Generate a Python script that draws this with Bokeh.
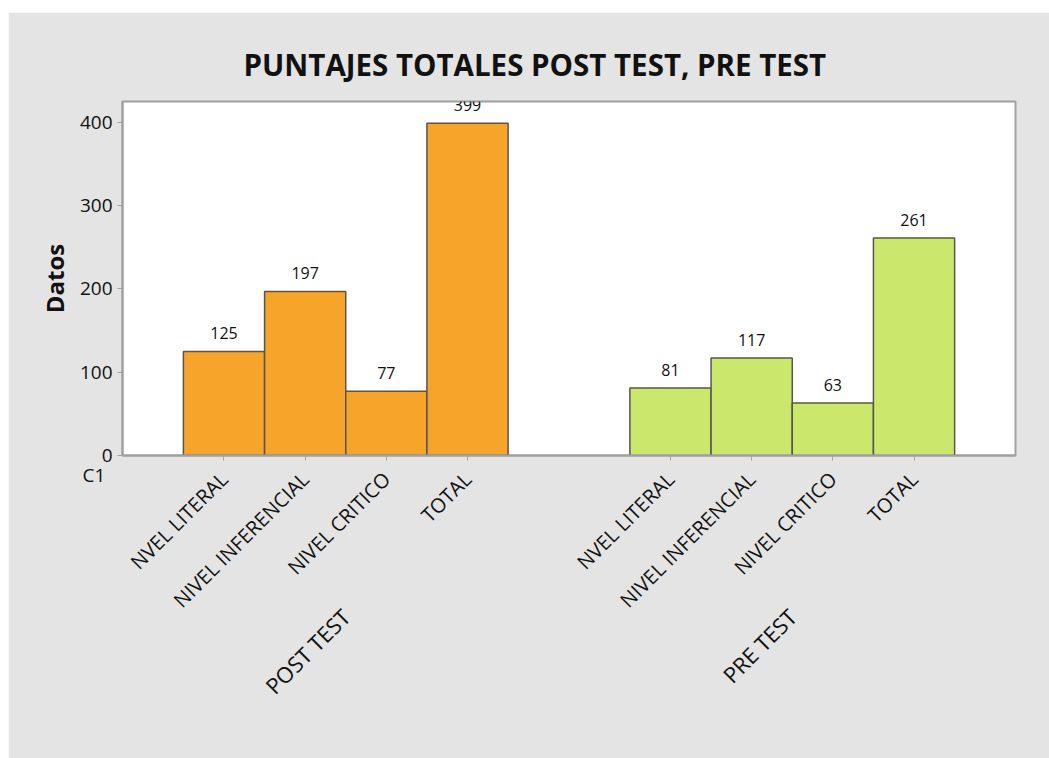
import math
from bokeh.plotting import figure
from bokeh.models import ColumnDataSource, LabelSet, Label, FixedTicker, Spacer, Range1d, LinearAxis
from bokeh.layouts import column, row
from bokeh.core.properties import value
from bokeh.embed import file_html
from bokeh.resources import INLINE

groups = ["POST TEST", "PRE TEST"]
levels = ["NVEL LITERAL", "NIVEL INFERENCIAL", "NIVEL CRITICO", "TOTAL"]
post_values = [125, 197, 77, 399]
pre_values = [81, 117, 63, 261]
group_colors = ["#F7A52A", "#CBE86C"]
x_axis_name = "C1"

# layout in bar units (bar width = 2 so every tick is an integer)
BAR = 2
GAP = 3
n = len(levels)
xs, tops, fills, labs = [], [], [], []
centers = []
for j, vals in enumerate([post_values, pre_values]):
    base = j * (n * BAR + GAP)
    centers.append(int(base + (n - 1) * BAR // 2))
    for i, v in enumerate(vals):
        xs.append(base + i * BAR)
        tops.append(v)
        fills.append(group_colors[j])
        labs.append(str(v))
src = ColumnDataSource(dict(x=xs, top=tops, fill=fills, lab=labs))

FONT = "Open Sans"
PAD = 1.5
p = figure(x_range=Range1d(xs[0] - BAR / 2 - PAD, xs[-1] + BAR / 2 + PAD),
           y_range=(0, 425), width=1041, height=746,
           output_backend="svg", toolbar_location=None,
           min_border_left=114, min_border_right=34, min_border_top=89,
           min_border_bottom=303)

p.vbar(x="x", top="top", width=BAR, source=src, fill_color="fill",
       line_color="#555555", line_width=1.5)

p.add_layout(LabelSet(x="x", y="top", text="lab", source=src, y_offset=12,
                      text_align="center", text_baseline="bottom",
                      text_font=value(FONT), text_font_size=value("16px"),
                      text_color="#111111"))

p.title.text = "PUNTAJES TOTALES POST TEST, PRE TEST"
p.title.align = "left"
p.title.offset = 121
p.title.text_font = FONT
p.title.text_font_size = "29.5px"
p.title.text_font_style = "bold"
p.title.text_color = "#111111"
p.title.standoff = 33

p.background_fill_color = "white"
p.border_fill_color = "#E4E4E4"
p.outline_line_color = "#A0A0A0"
p.outline_line_width = 2
p.xgrid.visible = False
p.ygrid.visible = False

p.yaxis.ticker = FixedTicker(ticks=[0, 100, 200, 300, 400])
p.yaxis.axis_label = "Datos"
p.yaxis.axis_label_text_font = FONT
p.yaxis.axis_label_text_font_size = "24px"
p.yaxis.axis_label_text_font_style = "bold"
p.yaxis.axis_label_text_color = "#111111"
p.yaxis.axis_label_standoff = 6
p.yaxis.major_label_text_font = FONT
p.yaxis.major_label_text_font_size = "19px"
p.yaxis.major_label_text_color = "#111111"
p.yaxis.axis_line_color = "#A0A0A0"
p.yaxis.axis_line_width = 2
p.yaxis.major_tick_line_color = "#A0A0A0"
p.yaxis.major_tick_out = 5
p.yaxis.major_tick_in = 0
p.yaxis.minor_tick_line_color = None

p.xaxis.ticker = FixedTicker(ticks=xs)
p.xaxis.major_label_overrides = {x: levels[k % n] for k, x in enumerate(xs)}
p.xaxis.major_label_orientation = math.pi / 4
p.xaxis.major_label_standoff = 15
p.xaxis.major_label_text_font = FONT
p.xaxis.major_label_text_font_size = "20px"
p.xaxis.major_label_text_color = "#111111"
p.xaxis.axis_line_color = "#A0A0A0"
p.xaxis.axis_line_width = 2
p.xaxis.major_tick_line_color = "#A0A0A0"
p.xaxis.major_tick_out = 5
p.xaxis.major_tick_in = 0
p.xaxis.minor_tick_line_color = None

gaxis = LinearAxis(ticker=FixedTicker(ticks=centers),
                   major_label_overrides={c: g for c, g in zip(centers, groups)},
                   major_label_orientation=math.pi / 4,
                   major_label_standoff=-19,
                   major_label_text_font=FONT,
                   major_label_text_font_size="22px",
                   major_label_text_color="#111111",
                   axis_line_color=None, major_tick_line_color=None,
                   minor_tick_line_color=None)
p.add_layout(gaxis, "below")

p.add_layout(Label(x=74, y=0, x_units="canvas", y_offset=-6, text=x_axis_name,
                   text_font=FONT, text_font_size="19px", text_color="#111111",
                   text_baseline="top"), "left")

layout = column(Spacer(height=12), row(Spacer(width=8), p))
open("out.html", "w").write(file_html(layout, INLINE))
